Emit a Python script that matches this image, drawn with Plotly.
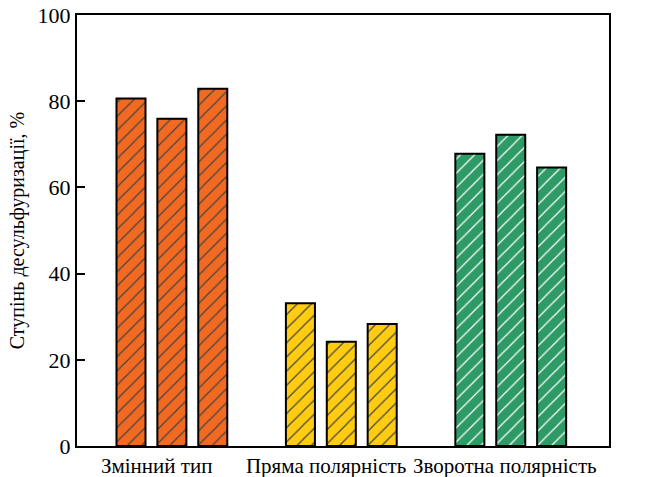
import plotly.graph_objects as go

# Desulfurization degree for three welding-current polarity regimes (three runs each)
categories = ["Змінний тип", "Пряма полярність", "Зворотна полярність"]
run1 = [80.6, 33.1, 67.8]
run2 = [75.9, 24.2, 72.2]
run3 = [82.9, 28.3, 64.6]
y_ticks = [0, 20, 40, 60, 80, 100]
y_title = "Ступінь десульфуризації, %"

group_colors = ["#F26A21", "#FFCC11", "#2E9A66"]

x_pos = list(range(len(categories)))
label_shift = [-0.09, -0.09, -0.035]

SERIF = "Liberation Serif, Times New Roman, serif"

fig = go.Figure()
for vals in (run1, run2, run3):
    fig.add_trace(go.Bar(
        x=x_pos,
        y=vals,
        marker=dict(
            color=group_colors,
            line=dict(color="black", width=2),
            pattern=dict(shape="/", fgcolor="black", size=10, solidity=0.12, fgopacity=1),
        ),
        showlegend=False,
    ))

fig.update_layout(
    width=647,
    height=477,
    margin=dict(l=77, r=38, t=15, b=31, autoexpand=False),
    barmode="group",
    bargap=0.276,
    bargroupgap=0.29,
    plot_bgcolor="white",
    paper_bgcolor="white",
    font=dict(family=SERIF, size=21, color="black"),
    xaxis=dict(
        range=[-0.56, 2.58],
        tickvals=[p + s for p, s in zip(x_pos, label_shift)],
        ticktext=categories,
        ticks="",
        showgrid=False,
        zeroline=False,
        showline=True,
        linecolor="black",
        linewidth=2,
        mirror=True,
        automargin=False,
        tickfont=dict(family=SERIF, size=21, color="black"),
    ),
    yaxis=dict(
        range=[0, 100],
        tickvals=y_ticks,
        ticks="inside",
        ticklen=8,
        tickwidth=2,
        tickcolor="black",
        showgrid=False,
        zeroline=False,
        showline=True,
        linecolor="black",
        linewidth=2,
        mirror=True,
        automargin=False,
        tickfont=dict(family=SERIF, size=22, color="black"),
        title=dict(text=y_title, font=dict(family=SERIF, size=20, color="black"), standoff=8),
    ),
)

fig.write_html("out.html")
